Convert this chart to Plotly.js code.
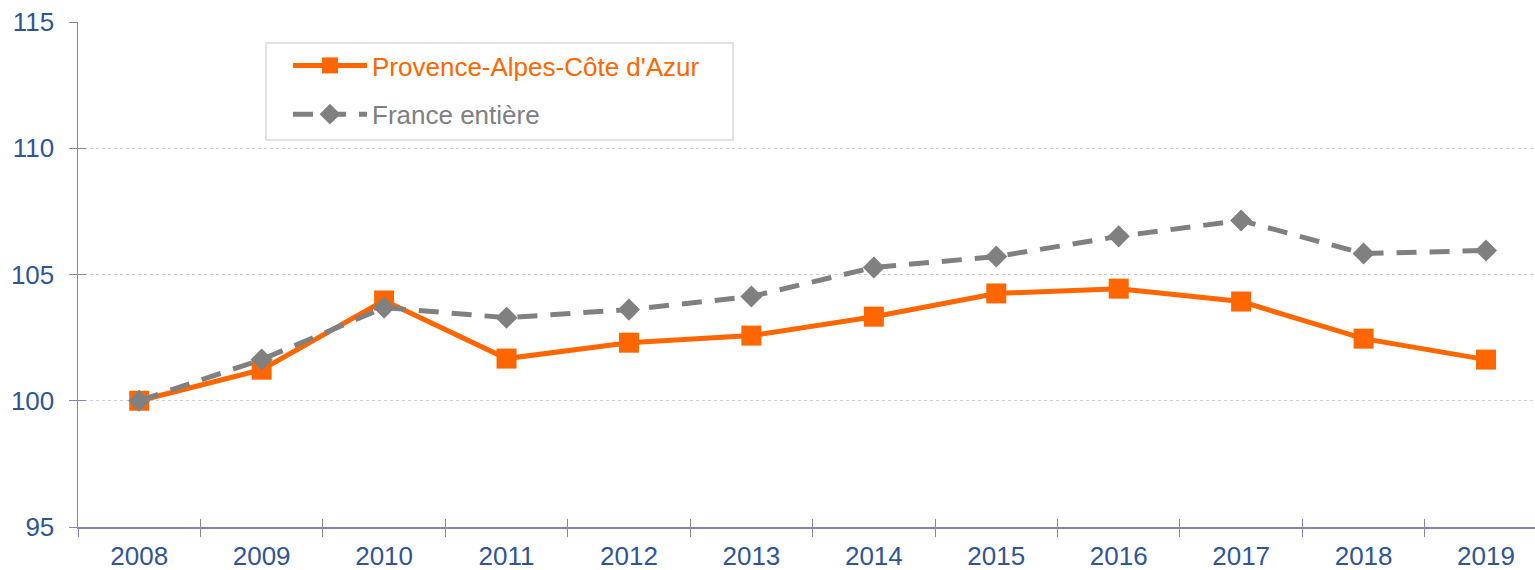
<!DOCTYPE html>
<html>
<head>
<meta charset="utf-8">
<script src="https://cdn.plot.ly/plotly-3.0.1.min.js"></script>
<style>html,body{margin:0;padding:0;background:#fff;}#chart{width:1535px;height:570px;}</style>
</head>
<body>
<div id="chart"></div>
<script>
const years = ["2008","2009","2010","2011","2012","2013","2014","2015","2016","2017","2018","2019"];
const pacaValues = [100, 101.23, 103.97, 101.67, 102.30, 102.58, 103.33, 104.25, 104.44, 103.93, 102.46, 101.63];
const franceValues = [100, 101.63, 103.69, 103.29, 103.61, 104.13, 105.28, 105.71, 106.51, 107.14, 105.83, 105.95];
const pacaName = "Provence-Alpes-Côte d'Azur";
const franceName = "France entière";
const yTicks = [95, 100, 105, 110, 115];

const orange = "#FF6600";
const gray = "#808080";
const axisCol = "#8585B5";
const labelCol = "#2F5597";

const W = 1535, H = 570, ML = 78, MT = 22, MB = 43;
const pw = W - ML, ph = H - MT - MB;
const px = v => (v - ML) / pw;
const py = v => (H - MB - v) / ph;

const traces = [
  {
    x: years, y: pacaValues, type: "scatter", mode: "lines+markers",
    name: '<span style="color:' + orange + '">' + pacaName + '</span>',
    legendgroup: "a",
    line: {color: orange, width: 5},
    marker: {symbol: "square", size: 20, color: orange},
    cliponaxis: false
  },
  {
    x: years, y: franceValues, type: "scatter", mode: "lines+markers",
    name: '<span style="color:' + gray + '">' + franceName + '</span>',
    legendgroup: "b",
    line: {color: gray, width: 5, dash: "20px,13px"},
    marker: {symbol: "diamond", size: 17, color: gray},
    cliponaxis: false
  }
];

const layout = {
  width: W, height: H,
  margin: {l: ML, r: 0, t: MT, b: MB},
  paper_bgcolor: "#fff", plot_bgcolor: "#fff",
  font: {family: "Liberation Sans, Arial, sans-serif", size: 26, color: labelCol},
  showlegend: true,
  legend: {
    x: px(288), y: py(42), xanchor: "left", yanchor: "top",
    bgcolor: "rgba(0,0,0,0)", borderwidth: 0,
    font: {size: 26, color: gray},
    traceorder: "grouped", tracegroupgap: 12,
    itemwidth: 74
  },
  shapes: [
    {type: "rect", xref: "paper", yref: "paper",
     x0: px(266), x1: px(733), y0: py(140), y1: py(43),
     line: {color: "#D9D9D9", width: 1.5}, fillcolor: "rgba(255,255,255,0)", layer: "below"}
  ],
  xaxis: {
    type: "category", range: [-0.5, 11.4],
    showline: true, linecolor: axisCol, linewidth: 1.5,
    ticks: "outside", ticklen: 8, tickwidth: 1, tickcolor: axisCol,
    tickson: "boundaries",
    showgrid: false, zeroline: false,
    tickfont: {size: 26, color: labelCol},
    ticklabelstandoff: 5,
    fixedrange: true
  },
  xaxis2: {
    type: "category", range: [-0.5, 11.4], overlaying: "x",
    ticks: "inside", ticklen: 8, tickwidth: 1, tickcolor: axisCol,
    tickson: "boundaries", showticklabels: false, showgrid: false,
    zeroline: false, showline: false, tickvals: years
  },
  yaxis: {
    range: [95, 115], tickvals: yTicks,
    showline: true, linecolor: axisCol, linewidth: 1.5,
    ticks: "outside", ticklen: 8, tickwidth: 1, tickcolor: axisCol,
    showgrid: true, gridcolor: "#D0D0D0", griddash: "dot", gridwidth: 1,
    zeroline: false,
    tickfont: {size: 26, color: labelCol},
    ticklabelstandoff: 9,
    fixedrange: true
  },
  yaxis2: {
    range: [95, 115], tickvals: yTicks, overlaying: "y",
    ticks: "inside", ticklen: 8, tickwidth: 1, tickcolor: axisCol,
    showticklabels: false, showgrid: false, zeroline: false, showline: false
  }
};

// invisible trace to activate the secondary tick axes
traces.push({x: years, y: pacaValues, xaxis: "x2", yaxis: "y2", type: "scatter", mode: "none", showlegend: false, hoverinfo: "skip"});

Plotly.newPlot("chart", traces, layout, {staticPlot: true});
</script>
</body>
</html>
